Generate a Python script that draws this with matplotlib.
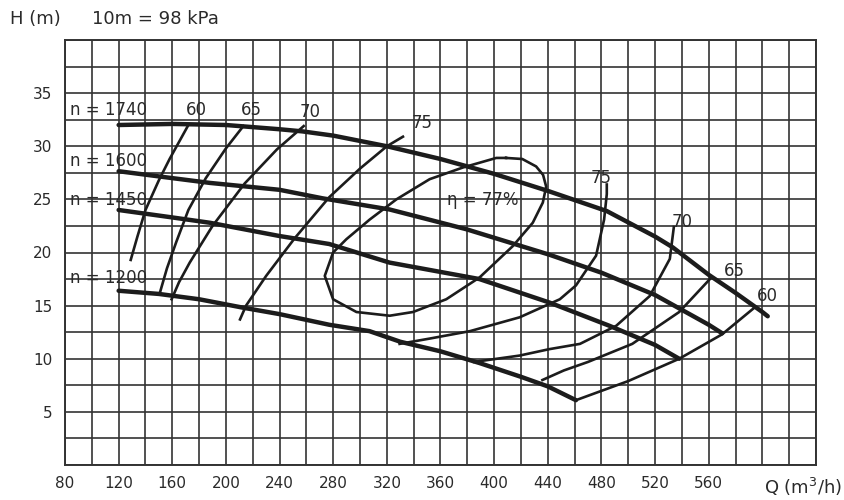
import matplotlib
matplotlib.use("Agg")
import matplotlib.pyplot as plt

plt.rcParams['font.family'] = ['DejaVu Sans']

# Head curves H(Q) for each speed n (rpm)
q_1740 = [120, 160, 200, 240, 257, 280, 320, 360, 400, 440, 484, 520, 533, 560, 580, 600, 604]
h_1740 = [32.0, 32.1, 32.0, 31.6, 31.4, 31.0, 30.0, 28.8, 27.4, 25.8, 23.9, 21.5, 20.5, 17.9, 16.2, 14.4, 14.0]

q_1600 = [120, 160, 188, 240, 272, 322, 379, 441, 480, 520, 540, 560, 570]
h_1600 = [27.65, 27.0, 26.55, 25.9, 25.1, 24.05, 22.2, 19.8, 18.1, 16.0, 14.6, 13.2, 12.4]

q_1450 = [120, 160, 188, 240, 277, 322, 389, 441, 486, 520, 538]
h_1450 = [24.0, 23.3, 22.8, 21.55, 20.8, 19.05, 17.5, 15.3, 13.1, 11.3, 10.0]

q_1200 = [120, 150, 180, 213, 240, 277, 307, 330, 360, 389, 420, 440, 461]
h_1200 = [16.4, 16.1, 15.6, 14.8, 14.2, 13.2, 12.6, 11.6, 10.7, 9.6, 8.3, 7.4, 6.1]

speeds = ["n = 1740", "n = 1600", "n = 1450", "n = 1200"]
speed_label_h = [33.4, 28.65, 24.9, 17.6]

# Efficiency iso-lines (left branch)
q_e60L = [172, 165, 158, 150, 140, 134, 129]
h_e60L = [32.0, 30.4, 28.8, 26.8, 24.0, 21.5, 19.3]
q_e65L = [213, 200, 185, 172, 163, 156, 150.5]
h_e65L = [31.9, 29.8, 27.0, 24.0, 21.0, 18.5, 16.1]
q_e70L = [258, 238, 214, 190, 173, 165, 159.5]
h_e70L = [31.9, 29.7, 26.5, 22.5, 19.05, 17.2, 15.6]
q_e75L = [332, 320, 300, 277, 251, 230, 215, 210.5]
h_e75L = [30.9, 30.0, 27.9, 25.2, 21.3, 17.8, 15.0, 13.7]

# Efficiency iso-lines (right branch)
q_e75R = [484, 484, 482, 476, 461, 449, 419, 382, 352, 329.5]
h_e75R = [26.4, 25.5, 23.1, 19.7, 16.9, 15.6, 13.9, 12.6, 11.9, 11.4]
q_e70R = [534, 533, 531, 516, 491, 464, 441, 419, 385]
h_e70R = [22.4, 21.4, 19.4, 15.9, 13.1, 11.4, 10.9, 10.3, 9.7]
q_e65R = [562, 538, 503, 470, 452, 436]
h_e65R = [17.65, 14.4, 11.4, 9.7, 8.9, 8.0]
q_e60R = [594, 570, 538, 500, 461]
h_e60R = [14.8, 12.3, 10.0, 7.9, 6.1]

# eta = 77 % closed contour
q_e77 = [408.9, 421.0, 431.3, 436.5, 438.8, 436.3, 428.8, 413.9, 389.1, 364.3, 339.5, 322.1,
         297.3, 279.9, 273.7, 279.9, 289.8, 307.2, 327.1, 351.9, 376.7, 401.6, 408.9]
h_e77 = [28.9, 28.8, 28.1, 27.3, 26.2, 24.7, 22.8, 20.6, 17.65, 15.6, 14.4, 14.05,
         14.4, 15.6, 17.8, 20.0, 21.25, 23.1, 25.0, 26.9, 28.0, 28.9, 28.9]

eff_labels = ["60", "65", "70", "75", "75", "70", "65", "60", "\u03b7 = 77%"]
eff_label_q = [178, 219, 262.5, 346.6, 479.5, 540.4, 579, 604, 391.4]
eff_label_h = [33.4, 33.4, 33.25, 32.2, 27.0, 22.9, 18.3, 15.9, 24.9]

x_ticks = list(range(80, 641, 20))
x_labels = [str(v) if (v <= 560 and (v - 80) % 40 == 0) else "" for v in x_ticks]
y_ticks = [i * 2.5 for i in range(0, 17)]
y_labels = [str(int(v)) if (v % 5 == 0 and 0 < v < 40) else "" for v in y_ticks]

ink = "#1c1c1c"
grid_c = "#333333"
txt_c = "#2a2a2a"

fig = plt.figure(figsize=(8.45, 5.0), dpi=100)
ax = fig.add_axes([65 / 845, 35 / 500, 751 / 845, 425 / 500])
ax.set_xlim(80, 640)
ax.set_ylim(0, 40)
ax.set_xticks(x_ticks)
ax.set_xticklabels(x_labels)
ax.set_yticks(y_ticks)
ax.set_yticklabels(y_labels)
ax.tick_params(length=0, labelsize=11, colors=txt_c, pad=8)
ax.tick_params(axis='y', pad=9)
ax.grid(True, color=grid_c, lw=1.2)
ax.set_axisbelow(True)
for s in ax.spines.values():
    s.set_color(grid_c)
    s.set_linewidth(1.4)

for q, h in [(q_1740, h_1740), (q_1600, h_1600), (q_1450, h_1450), (q_1200, h_1200)]:
    ax.plot(q, h, color=ink, lw=3.2, solid_capstyle='round', solid_joinstyle='round', zorder=3)

for q, h in [(q_e60L, h_e60L), (q_e65L, h_e65L), (q_e70L, h_e70L), (q_e75L, h_e75L),
             (q_e75R, h_e75R), (q_e70R, h_e70R), (q_e65R, h_e65R), (q_e60R, h_e60R),
             (q_e77, h_e77)]:
    ax.plot(q, h, color=ink, lw=1.9, solid_joinstyle='round', zorder=3)

for lab, hh in zip(speeds, speed_label_h):
    ax.text(84, hh, lab, fontsize=12, color=txt_c, va='center', ha='left', zorder=4)

for lab, qq, hh in zip(eff_labels, eff_label_q, eff_label_h):
    ax.text(qq, hh, lab, fontsize=12, color=txt_c, va='center', ha='center', zorder=4)

fig.text(10 / 845, 1 - 19 / 500, "H (m)", fontsize=13, color=txt_c, va='center', ha='left')
fig.text(92 / 845, 1 - 19 / 500, "10m = 98 kPa", fontsize=13, color=txt_c, va='center', ha='left')
fig.text(842 / 845, 1 - 487 / 500, "Q (m$^3$/h)", fontsize=13, color=txt_c, va='center', ha='right')

fig.savefig("out.png", dpi=100, facecolor="white")
